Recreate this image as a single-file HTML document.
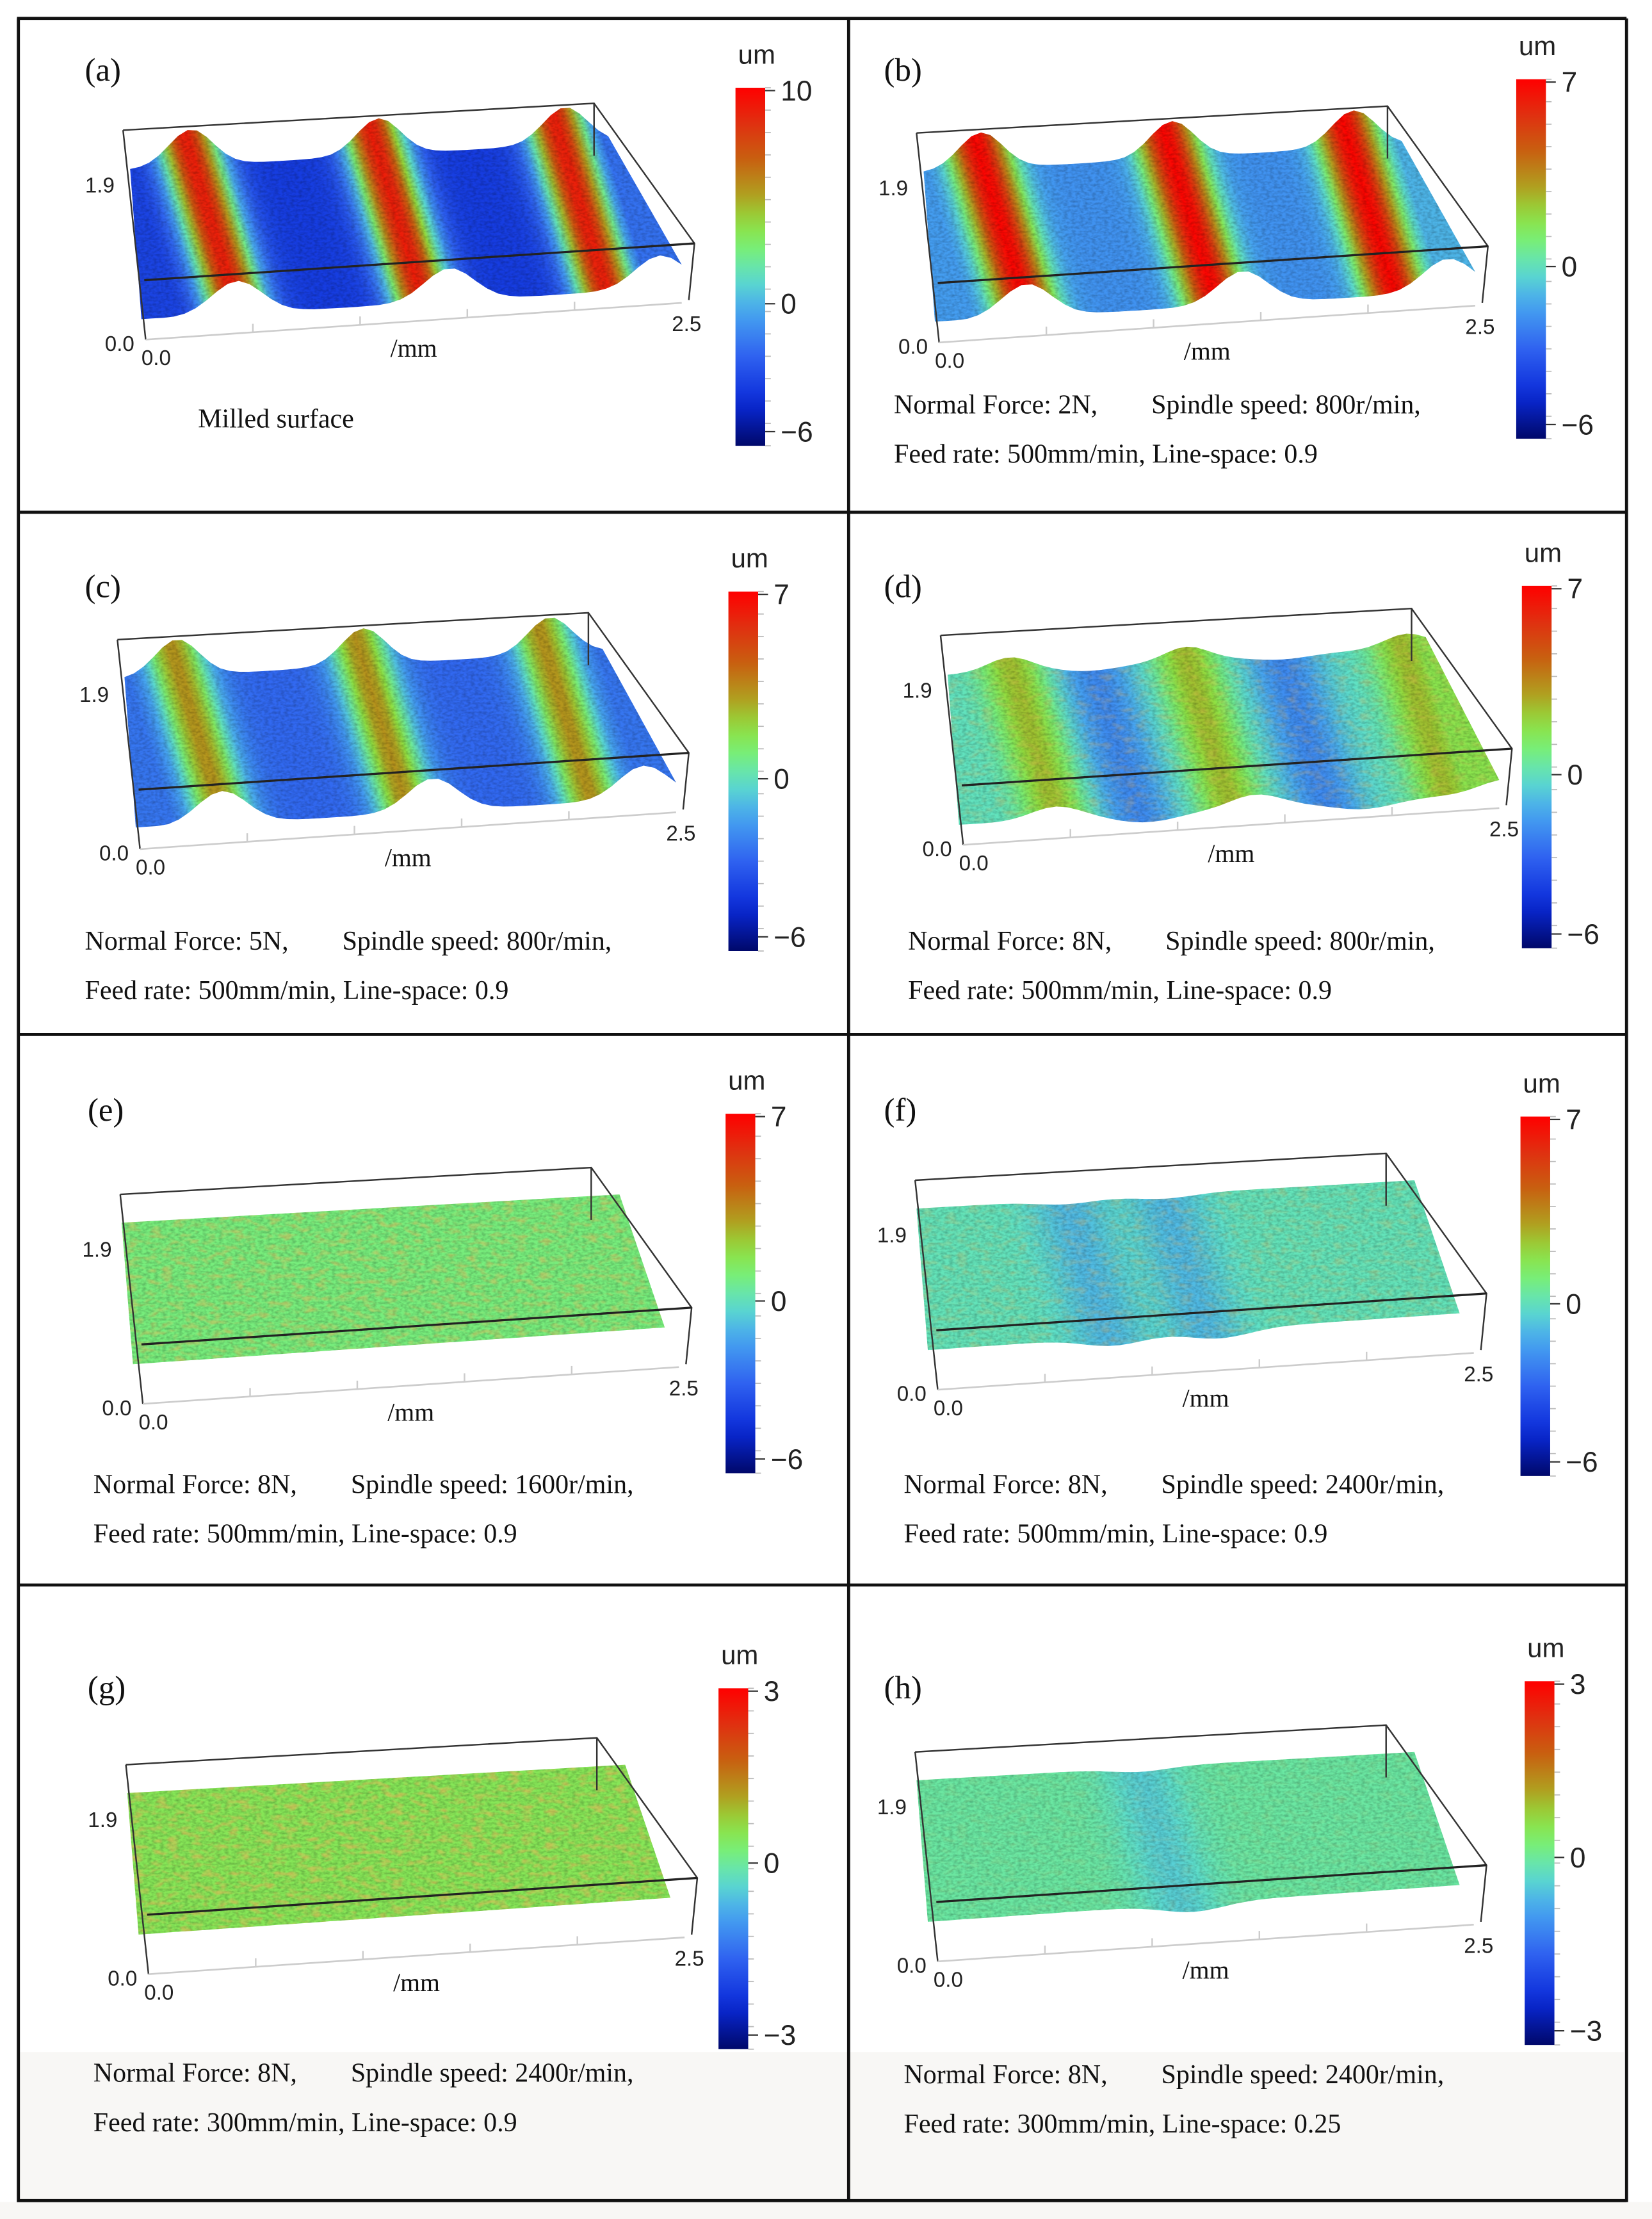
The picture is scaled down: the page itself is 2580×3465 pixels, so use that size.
<!DOCTYPE html>
<html><head><meta charset="utf-8">
<style>
html,body{margin:0;padding:0;background:#fff;}
svg{display:block;}
.ser{font-family:"Liberation Serif",serif;fill:#111;}
.san{font-family:"Liberation Sans",sans-serif;fill:#222;}
</style></head>
<body>
<svg id="fig" width="2580" height="3465" viewBox="0 0 1168 1568" preserveAspectRatio="none" xmlns="http://www.w3.org/2000/svg">
<defs>
<filter id="noise" x="0" y="0" width="100%" height="100%">
<feTurbulence type="fractalNoise" baseFrequency="0.35 0.6" numOctaves="2" seed="7"/>
<feColorMatrix type="matrix" values="0 0 0 0 0  0 0 0 0 0  0 0 0 0 0  0 0 0 -1.6 1.05"/>
</filter>
<filter id="noise2" x="0" y="0" width="100%" height="100%">
<feTurbulence type="fractalNoise" baseFrequency="0.12 0.25" numOctaves="2" seed="3"/>
<feColorMatrix type="matrix" values="0 0 0 0 0.85  0 0 0 0 0.45  0 0 0 0 0.1  0 0 0 -3 1.6"/>
</filter>
</defs>
<rect x="0" y="0" width="1168" height="1568" fill="#fff"/>
<rect x="14" y="1450" width="1134" height="104" fill="#f8f7f5"/>
<rect x="0" y="1556" width="1168" height="12" fill="#f8f7f5"/>
<g id="panels"></g>
<g id="frame" stroke="#111" stroke-width="2.2" fill="none">
<line x1="12" y1="13" x2="1150" y2="13"/>
<line x1="13" y1="13" x2="13" y2="1556"/>
<line x1="1150" y1="13" x2="1150" y2="1556"/>
<line x1="600" y1="13" x2="600" y2="1556"/>
<line x1="12" y1="362" x2="1150" y2="362"/>
<line x1="12" y1="731" x2="1150" y2="731"/>
<line x1="12" y1="1120" x2="1150" y2="1120"/>
<line x1="12" y1="1555" x2="1150" y2="1555"/>
</g>
</svg>
<script>
// ---- data ----
const panelIds = ['a','b','c','d','e','f','g','h'];
const colorMin = [-6,-6,-6,-6,-6,-6,-3,-3];
const colorMax = [10,7,7,7,7,7,3,3];
const colorTicks = [[10,0,-6],[7,0,-6],[7,0,-6],[7,0,-6],[7,0,-6],[7,0,-6],[3,0,-3],[3,0,-3]];
const baseHeight = [-3.4,-1.6,-2.6,0.2,1.1,0.3,0.55,0.05];
const peakHeight = [12.5,8.5,6.0,2.4,0,0,0,0];
const troughDepth = [0,0,0,-2.0,0,-1.0,0,-0.4];
const orangeFleck = [0,0,0,0.25,0.45,0.25,0.55,0.1];
const peakPos = [[0.127,0.52,0.91],[0.12,0.52,0.9],[0.11,0.5,0.89],[0.13,0.5,0.96],[],[],[],[]];
const troughPos = [[],[],[],[[0.3],[0.7]],[],[[0.3],[0.5]],[],[[0.45]]];
const line1 = ['Milled surface',
 'Normal Force: 2N,        Spindle speed: 800r/min,',
 'Normal Force: 5N,        Spindle speed: 800r/min,',
 'Normal Force: 8N,        Spindle speed: 800r/min,',
 'Normal Force: 8N,        Spindle speed: 1600r/min,',
 'Normal Force: 8N,        Spindle speed: 2400r/min,',
 'Normal Force: 8N,        Spindle speed: 2400r/min,',
 'Normal Force: 8N,        Spindle speed: 2400r/min,'];
const line2 = ['',
 'Feed rate: 500mm/min, Line-space: 0.9',
 'Feed rate: 500mm/min, Line-space: 0.9',
 'Feed rate: 500mm/min, Line-space: 0.9',
 'Feed rate: 500mm/min, Line-space: 0.9',
 'Feed rate: 500mm/min, Line-space: 0.9',
 'Feed rate: 300mm/min, Line-space: 0.9',
 'Feed rate: 300mm/min, Line-space: 0.25'];

// ---- layout (not data) ----
const L = {
 off:[[0,0],[561,2],[-4,360],[578,357],[-2,752],[560,742],[2,1155],[560,1146]],
 flat:[0,0,0,0,1,1,1,1],
 cb:[[520,62,253],[1072,56,254],[515,418,254],[1076,414,256],[513,787,254],[1075,789,254],[508,1193,255],[1078,1188,257]],
 lab:[[60,57],[625,57],[60,422],[625,422],[62,792],[625,792],[62,1200],[625,1200]],
 txt:[[140,302,0],[632,292,327],[60,671,706],[642,671,706],[66,1055,1090],[639,1055,1090],[66,1471,1506],[639,1472,1507]]
};
const CM=[[0,[0,8,106]],[0.12,[10,42,216]],[0.25,[47,98,240]],[0.38,[72,168,240]],[0.47,[94,224,200]],[0.55,[120,238,120]],[0.62,[144,224,64]],[0.7,[176,160,32]],[0.8,[200,96,16]],[0.9,[224,48,16]],[1,[255,0,0]]];
const SVGNS='http://www.w3.org/2000/svg';
const root=document.getElementById('panels');
function mk(tag,attrs,parent){const e=document.createElementNS(SVGNS,tag);for(const k in attrs)e.setAttribute(k,attrs[k]);(parent||root).appendChild(e);return e;}
function cmap(t){t=Math.max(0,Math.min(1,t));for(let k=1;k<CM.length;k++){if(t<=CM[k][0]){const a=CM[k-1],b=CM[k],f=(t-a[0])/(b[0]-a[0]);
  const c=a[1].map((v,j)=>Math.round(v+(b[1][j]-v)*f));return `rgb(${c[0]},${c[1]},${c[2]})`;}}return 'rgb(255,0,0)';}

panelIds.forEach((id,i)=>{
 const [dx,dy]=L.off[i];
 const g=mk('g',{transform:`translate(${dx},${dy})`});
 
 
 const mn=colorMin[i],mx=colorMax[i];
 const bump=t=>{let s=0;peakPos[i].forEach(p=>{s+=Math.exp(-Math.pow((t-p)/0.065,2));});return s;};
 const trough=t=>{let s=0;troughPos[i].forEach(p=>{s+=Math.exp(-Math.pow((t-p[0])/0.08,2));});return s;};
 const hAt=t=>baseHeight[i]+peakHeight[i]*bump(t)+troughDepth[i]*trough(t);
 const gid='grad'+id;
 const defs=mk('defs',{},g);
 const flat=L.flat[i];
 const x1=flat?90:92, x2=flat?440:430;
 const lg=mk('linearGradient',{id:gid,gradientUnits:'userSpaceOnUse',x1:x1,y1:0,x2:x2,y2:0,
   gradientTransform:'translate(0,110) skewX(17) translate(0,-110)'},defs);
 for(let k=0;k<=60;k++){const t=k/60;mk('stop',{offset:t,'stop-color':cmap((hAt(t)-mn)/(mx-mn))},lg);}
 const raise=flat?0:(i<3?26:10);
 const top=[],bot=[];
 const tl=flat?[88,112]:[92,120], tr=flat?[440,92]:[430,100];
 const bl=flat?[96,212]:[100,226], br=flat?[472,186]:[482,203];
 for(let k=0;k<=50;k++){const t=k/50;
  top.push([tl[0]+(tr[0]-tl[0])*t, tl[1]+(tr[1]-tl[1])*t-raise*bump(t)+(troughDepth[i]?3*trough(t):0)]);
  const tb=Math.max(0,t-0.05);
  bot.push([bl[0]+(br[0]-bl[0])*t, bl[1]+(br[1]-bl[1])*t-raise*bump(tb)*0.9+(troughDepth[i]?6*trough(tb):0)]);}
 const pts=top.concat(bot.reverse()).map(p=>p[0].toFixed(1)+','+p[1].toFixed(1)).join(' ');
 const cid='clip'+id;
 const cp=mk('clipPath',{id:cid},defs);mk('polygon',{points:pts},cp);
 const surf=mk('polygon',{points:pts,fill:`url(#${gid})`},g);
 
 
 mk('rect',{x:80,y:60,width:420,height:180,filter:'url(#noise)','clip-path':`url(#${cid})`,opacity:flat?0.25:0.25,fill:'#000'},g);
 if(orangeFleck[i]>0) mk('rect',{x:80,y:60,width:420,height:180,filter:'url(#noise2)','clip-path':`url(#${cid})`,opacity:orangeFleck[i]},g);
 const box=mk('g',{stroke:'#333','stroke-width':1.1,fill:'none'},g);
 
 
 mk('polyline',{points:'87,92 420,73 491,172 487,212'},box);
 mk('line',{x1:87,y1:92,x2:103,y2:240},box);
 mk('line',{x1:420,y1:73,x2:420,y2:110},box);
 mk('line',{x1:102,y1:198,x2:491,y2:172,stroke:'#222','stroke-width':1.5},box);
 mk('line',{x1:103,y1:240,x2:482,y2:214,stroke:'#ccc','stroke-width':1.2},box);
 for(let k=1;k<5;k++){const x=103+(482-103)*k/5,y=240+(214-240)*k/5;mk('line',{x1:x,y1:y,x2:x,y2:y-6,stroke:'#ccc'},box);}
 const tx=(x,y,s,cls,sz,nm,anc)=>{const e=mk('text',{x:x,y:y,class:cls,'font-size':sz,'text-anchor':anc||'start'},g);e.textContent=s;
   return e;};
 tx(81,136,'1.9','san',15,'y-tick-1-9','end');
 tx(95,248,'0.0','san',15,'z-tick-0','end');
 tx(100,258,'0.0','san',15,'x-tick-start');
 tx(475,234,'2.5','san',15,'x-tick-end');
 tx(276,252,'/mm','ser',18,'x-axis-title');
 tx(L.lab[i][0]-dx,L.lab[i][1]-dy,'('+id+')','ser',23,'panel-label-'+id);
 const [cx,cy,ch]=L.cb[i];
 const cbg=mk('linearGradient',{id:'cb'+id,x1:0,y1:1,x2:0,y2:0},defs);
 for(let k=0;k<=20;k++){mk('stop',{offset:k/20,'stop-color':cmap(k/20)},cbg);}
 const bar=mk('rect',{x:cx-dx,y:cy-dy,width:21,height:ch,fill:`url(#cb${id})`},g);
 
 
 const yS=v=>cy-dy+2+(mx-v)/(mx-mn)*(ch-12);
 for(let k=0;k<=16;k++){const yy=cy-dy+ch*k/16;mk('line',{x1:cx-dx+21,y1:yy,x2:cx-dx+25,y2:yy,stroke:'#bbb','stroke-width':0.8},g);}
 colorTicks[i].forEach(v=>{const yy=yS(v);mk('line',{x1:cx-dx+21,y1:yy,x2:cx-dx+28,y2:yy,stroke:'#333'},g);
   tx(cx-dx+32,yy+7,v<0?'\u2212'+(-v):String(v),'san',20,'colorbar-tick-'+v);});
 tx(cx-dx+15,cy-dy-17,'um','san',19,'colorbar-unit','middle');
 const [qx,qy1,qy2]=L.txt[i];
 tx(qx-dx,qy1-dy,line1[i],'ser',19,'caption-line-1');
 if(line2[i]) tx(qx-dx,qy2-dy,line2[i],'ser',19,'caption-line-2');
});
document.querySelectorAll('text').forEach(t=>t.style.whiteSpace='pre');
</script>
</body></html>
